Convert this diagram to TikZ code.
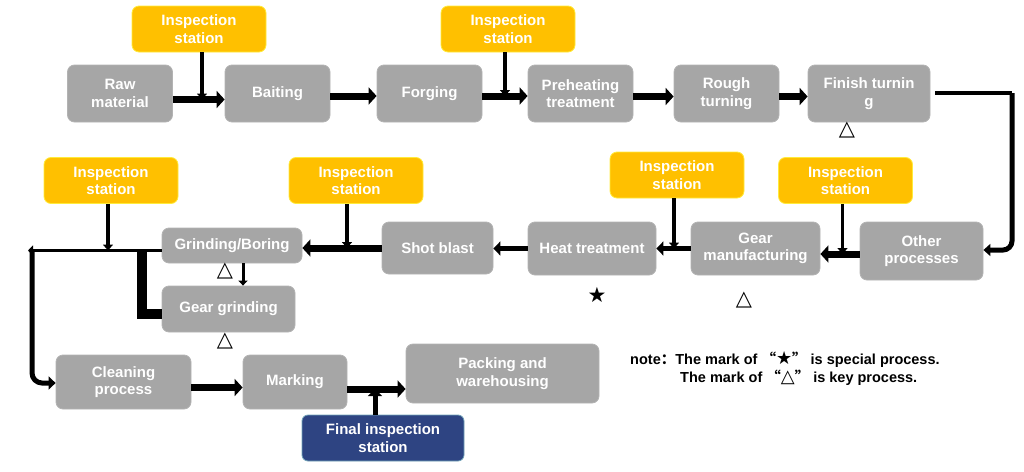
\documentclass[tikz,border=0pt]{standalone}
\usepackage{fontspec}
\setmainfont{Liberation Sans}
\newfontfamily\symf{DejaVu Sans}
\newfontfamily\cjk{Noto Sans CJK SC}
\usetikzlibrary{arrows.meta,calc}
\definecolor{boxgray}{HTML}{A6A6A6}
\definecolor{insp}{HTML}{FFC000}
\definecolor{inspb}{HTML}{FFEB3B}
\definecolor{navy}{HTML}{2E4482}
\begin{document}
\begin{tikzpicture}[x=1pt,y=-1pt,
  proc/.style={fill=boxgray,draw=boxgray!85!white,rounded corners=7pt,text=white,font=\bfseries\fontsize{15}{17.5}\selectfont,align=center,inner sep=0pt,line width=0.8pt},
  ins/.style={fill=insp,draw=inspb,rounded corners=7pt,text=white,font=\bfseries\fontsize{15}{17.5}\selectfont,align=center,inner sep=0pt,minimum width=134pt,minimum height=46pt,line width=0.8pt},
  fin/.style={fill=navy,draw=cyan!40!gray,rounded corners=6pt,text=white,font=\bfseries\fontsize{15}{17.5}\selectfont,align=center,inner sep=0pt,minimum width=162pt,minimum height=46pt,line width=0.8pt},
  big/.style={line width=7pt,-{Triangle[length=8pt,width=17pt]}},
  mid/.style={line width=5pt,-{Triangle[length=7pt,width=14pt]}},
  thin/.style={line width=3.5pt,-{Triangle[length=6pt,width=10pt]}},
  keymark/.style={font=\symf\fontsize{21}{21}\selectfont,inner sep=0pt}
]
\useasboundingbox (0,0) rectangle (1024,471);
% row 1
\node[proc,minimum width=105pt,minimum height=57pt] (raw) at (120,93.5) {Raw\\material};
\node[proc,minimum width=105pt,minimum height=57pt] (bait) at (277.5,93.5) {Baiting};
\node[proc,minimum width=105pt,minimum height=57pt] (forg) at (429.5,93.5) {Forging};
\node[proc,minimum width=105pt,minimum height=57pt] (preh) at (580.5,93.5) {Preheating\\treatment};
\node[proc,minimum width=105pt,minimum height=57pt] (rough) at (726.5,93.5) {Rough\\turning};
\node[proc,minimum width=122pt,minimum height=57pt] (finish) at (869,93.5) {Finish turnin\\g};
\node[ins] (i1) at (199,29) {Inspection\\station};
\node[ins] (i2) at (508,29) {Inspection\\station};
% row 2
\node[proc,minimum width=123pt,minimum height=58pt] (other) at (921.5,251) {Other\\processes};
\node[proc,minimum width=129pt,minimum height=53pt] (gear) at (755.5,248.5) {Gear\\manufacturing};
\node[proc,minimum width=128pt,minimum height=53pt] (heat) at (592,248.5) {Heat treatment};
\node[proc,minimum width=111pt,minimum height=52pt] (shot) at (437.5,248) {Shot blast};
\node[proc,minimum width=140pt,minimum height=35pt] (grind) at (232,245.5) {Grinding/Boring};
\node[proc,minimum width=133pt,minimum height=46pt] (ggrind) at (228.5,309) {Gear grinding};
\node[ins] (i3) at (111,180.5) {Inspection\\station};
\node[ins] (i4) at (356,180.5) {Inspection\\station};
\node[ins] (i5) at (677,175) {Inspection\\station};
\node[ins] (i6) at (845.5,180.5) {Inspection\\station};
% row 3
\node[proc,minimum width=135pt,minimum height=54pt] (clean) at (123.5,382) {Cleaning\\process};
\node[proc,minimum width=104pt,minimum height=54pt] (markg) at (295,382) {Marking};
\node[proc,minimum width=193pt,minimum height=59pt] (pack) at (502.5,373.5) {Packing and\\warehousing};
\node[fin] (final) at (383,438) {Final inspection\\station};
% markers
\node[keymark] (m1) at (847,130) {△};
\node[keymark] (m2) at (225,271) {△};
\node[keymark] (m3) at (225,341) {△};
\node[keymark] (m4) at (597,295) {★};
\node[keymark] (m5) at (744,300) {△};
% note
\node[anchor=west,inner sep=0pt,font=\bfseries\fontsize{14.5}{17}\selectfont] (n1) at (630,359) {note{\cjk ：}The mark of {\cjk “}{\symf\fontsize{18}{17}\selectfont ★}{\cjk ”} is special process.};
\node[anchor=west,inner sep=0pt,font=\bfseries\fontsize{14.5}{17}\selectfont] (n2) at (680,378) {The mark of {\cjk “}{\symf\fontsize{18}{17}\selectfont △}{\cjk ”} is key process.};
% row 1 connectors
\coordinate (a1) at ([yshift=-6pt]raw.east);
\draw[big] (a1) -- (a1 -| bait.west);
\coordinate (a2) at ([yshift=-2.5pt]bait.east);
\draw[big] (a2) -- (a2 -| forg.west);
\coordinate (a3) at ([yshift=-2.5pt]forg.east);
\draw[big] (a3) -- (a3 -| preh.west);
\coordinate (a4) at ([yshift=-3pt]preh.east);
\draw[big] (a4) -- (a4 -| rough.west);
\coordinate (a5) at ([yshift=-3pt]rough.east);
\draw[big] (a5) -- (a5 -| finish.west);
\draw[thin] ([xshift=3pt]i1.south) -- ([xshift=3pt]i1.south |- a1);
\draw[thin] ([xshift=-3pt]i2.south) -- ([xshift=-3pt]i2.south |- a3);
% right return
\coordinate (r1) at (1012,93);
\draw[line width=4pt] ([xshift=5pt]finish.east |- r1) -- (r1);
\draw[line width=5pt,rounded corners=9pt,-{Triangle[length=7pt,width=12pt]}] (r1) -- (1012,250) -- (other.east |- 0,250);
% row 2 connectors
\coordinate (b1) at ([yshift=-3pt]other.west);
\draw[big] (b1) -- (b1 -| gear.east);
\draw[mid] (gear.west) -- (gear.west -| heat.east);
\draw[mid] (heat.west) -- (heat.west -| shot.east);
\draw[big] (shot.west) -- (shot.west -| grind.east);
\draw[thin] ([xshift=-3pt]i6.south) -- ([xshift=-3pt]i6.south |- b1);
\draw[thin] ([xshift=-3pt]i5.south) -- ([xshift=-3pt]i5.south |- gear.west);
\draw[thin] ([xshift=-9pt]i4.south) -- ([xshift=-9pt]i4.south |- shot.west);
% left branch
\coordinate (c0) at (grind.west |- 0,250.5);
\coordinate (c1) at (28,250.5);
\draw[line width=3.5pt,-{Triangle[length=5pt,width=10pt]}] (c0) -- (c1);
\draw[thin] ([xshift=-3pt]i3.south) -- ([xshift=-3pt]i3.south |- c1);
\draw[line width=5pt,rounded corners=10pt,-{Triangle[length=7pt,width=13pt]}] (32,252) -- (32,383) -- (clean.west |- 0,383);
\draw[line width=10pt] (142,250) -- (142,314) -- (ggrind.west |- 0,314);
\draw[line width=3pt,-{Triangle[length=5pt,width=9pt]}] (grind.south -| 243,0) -- (ggrind.north -| 243,0);
% row 3 connectors
\coordinate (d1) at ([yshift=-5.5pt]clean.east);
\draw[big] (d1) -- (d1 -| markg.west);
\coordinate (d2) at ([yshift=-7pt]markg.east);
\draw[big] (d2) -- (d2 -| pack.west);
\draw[mid] ([xshift=-8pt]final.north) -- ([xshift=-8pt]final.north |- d2);
\end{tikzpicture}
\end{document}
